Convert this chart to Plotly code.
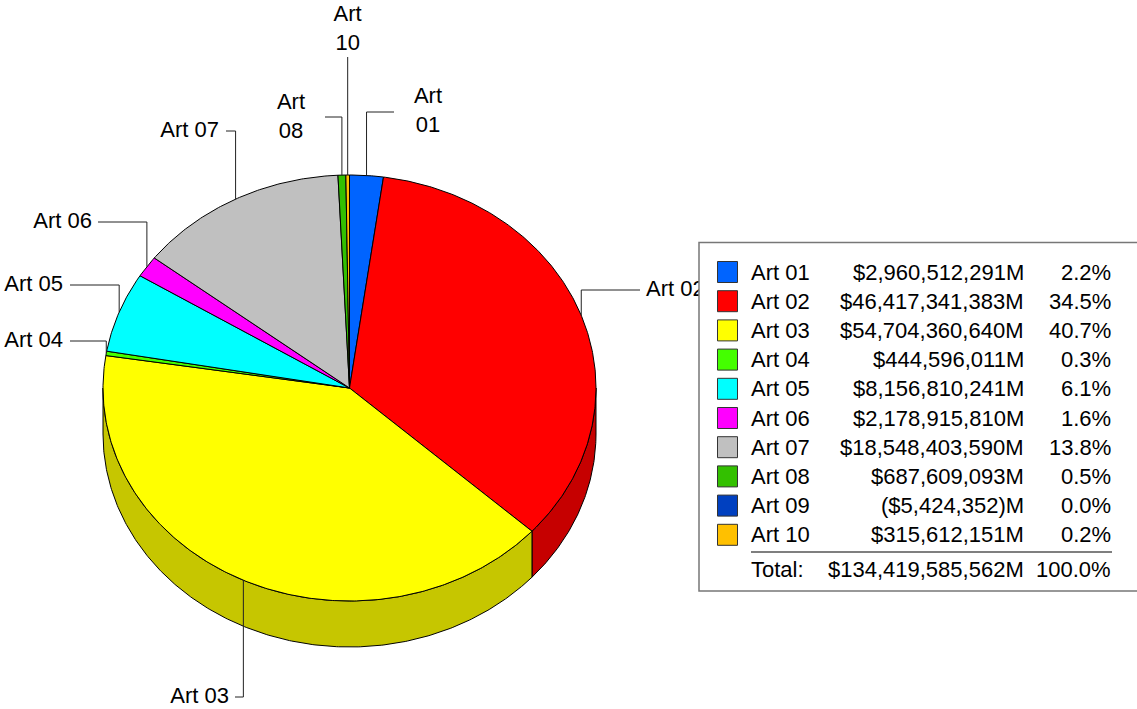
import numpy as np
import plotly.graph_objects as go

# ---- data (values in millions) ----
names = ["Art 01", "Art 02", "Art 03", "Art 04", "Art 05",
         "Art 06", "Art 07", "Art 08", "Art 09", "Art 10"]
values = [2960512291, 46417341383, 54704360640, 444596011, 8156810241,
          2178915810, 18548403590, 687609093, -5424352, 315612151]
colors = ["#0064FF", "#FF0000", "#FFFF00", "#44FF00", "#00FFFF",
          "#FF00FF", "#C0C0C0", "#33C000", "#0040C0", "#FFC000"]
pie_labels = ["Art<br>01", "Art 02", "Art 03", "Art 04", "Art 05",
              "Art 06", "Art 07", "Art<br>08", "Art<br>09", "Art<br>10"]

# ---- layout constants (pixel space) ----
W, H = 1137, 709
CX, CY, RX, RY, DEPTH = 349.5, 388.0, 246.5, 213.0, 46.0
FONT = "Liberation Sans, Arial, sans-serif"
FS = 22

# leader line elbows: name -> (elbow_y, line_end_x, text_x, text_y, textposition)
leaders = {
    "Art 01": (112, 394, 428, 112, "middle center"),
    "Art 02": (290, 640, 646, 290, "middle right"),
    "Art 03": (697, 235, 229, 697, "middle left"),
    "Art 04": (341, 70, 63, 341, "middle left"),
    "Art 05": (285, 70, 63, 285, "middle left"),
    "Art 06": (222, 98, 92, 222, "middle left"),
    "Art 07": (131, 226, 219, 131, "middle left"),
    "Art 08": (117, 325, 291, 118, "middle center"),
    "Art 10": (57, None, None, 30, "middle center"),
}


def shade(hex_color, f=0.78):
    h = hex_color.lstrip("#")
    r, g, b = (int(h[i:i + 2], 16) for i in (0, 2, 4))
    return "rgb(%d,%d,%d)" % (r * f, g * f, b * f)


def ell(theta_deg, dy=0.0):
    t = np.radians(theta_deg)
    return CX + RX * np.sin(t), CY - RY * np.cos(t) + dy


fig = go.Figure()

pos_total = sum(v for v in values if v > 0)
slices = []
start = 0.0
for n, v, c, lab in zip(names, values, colors, pie_labels):
    if v <= 0:
        continue
    span = 360.0 * v / pos_total
    slices.append((n, start, start + span, c, lab))
    start += span

# side walls (front half only)
for n, a, b, c, lab in slices:
    lo, hi = max(a, 90.0), min(b, 270.0)
    if hi <= lo:
        continue
    th = np.linspace(lo, hi, max(4, int((hi - lo) * 2)))
    xt, yt = ell(th)
    xb, yb = ell(th[::-1], DEPTH)
    xs = np.concatenate([xt, xb, xt[:1]])
    ys = np.concatenate([yt, yb, yt[:1]])
    fig.add_trace(go.Scatter(x=xs, y=ys, mode="lines", fill="toself",
                             fillcolor=shade(c), line=dict(color="black", width=1),
                             hoverinfo="skip", showlegend=False))

# top faces
for n, a, b, c, lab in slices:
    th = np.linspace(a, b, max(3, int((b - a) * 2)))
    xa, ya = ell(th)
    xs = np.concatenate([[CX], xa, [CX]])
    ys = np.concatenate([[CY], ya, [CY]])
    fig.add_trace(go.Scatter(x=xs, y=ys, mode="lines", fill="toself",
                             fillcolor=c, line=dict(color="black", width=1),
                             hoverinfo="skip", showlegend=False, name=n))

# leader lines and labels
for n, a, b, c, lab in slices:
    if n not in leaders:
        continue
    ey, ex, tx, ty, tp = leaders[n]
    mx, my = ell((a + b) / 2.0)
    if ex is None:
        lx, ly = [mx, mx], [my, ey]
        tx = mx
    else:
        lx, ly = [mx, mx, ex], [my, ey, ey]
    fig.add_trace(go.Scatter(x=lx, y=ly, mode="lines",
                             line=dict(color="#222222", width=1),
                             hoverinfo="skip", showlegend=False))
    fig.add_trace(go.Scatter(x=[tx], y=[ty], mode="text", text=[lab],
                             textposition=tp,
                             textfont=dict(family=FONT, size=FS, color="black"),
                             hoverinfo="skip", showlegend=False))

# ---- legend table ----
total = sum(abs(v) for v in values)
shapes = [dict(type="rect", xref="x", yref="y", x0=699, x1=1145, y0=242.5, y1=591,
               fillcolor="white", line=dict(color="#777777", width=1.5), layer="above")]
annotations = []
ROW0, ROWH = 272.0, 29.2
XL, XV, XP = 749, 1026, 1113
for i, (n, v, c) in enumerate(zip(names, values, colors)):
    y = ROW0 + i * ROWH
    shapes.append(dict(type="rect", xref="x", yref="y", x0=717.5, x1=737.5,
                       y0=y - 10.5, y1=y + 10.5, fillcolor=c,
                       line=dict(color="#333333", width=1), layer="above"))
    money = ("$%sM" % format(v, ",")) if v >= 0 else ("($%s)M" % format(-v, ","))
    pct = round(v / total * 100, 1) + 0.0
    for txt, x, anc in ((n, XL, "left"), (money, XV, "right"),
                        ("%.1f%%" % pct, XP, "right")):
        annotations.append(dict(x=x, y=y, xref="x", yref="y", text=txt,
                                showarrow=False, xanchor=anc, yanchor="middle",
                                font=dict(family=FONT, size=FS, color="black")))

shapes.append(dict(type="line", xref="x", yref="y", x0=751, x1=1112, y0=552, y1=552,
                   line=dict(color="#555555", width=1.5), layer="above"))
ty = 569
for txt, x, anc in (("Total:", XL, "left"), ("$%sM" % format(total, ","), XV, "right"),
                    ("100.0%", XP, "right")):
    annotations.append(dict(x=x, y=ty, xref="x", yref="y", text=txt,
                            showarrow=False, xanchor=anc, yanchor="middle",
                            font=dict(family=FONT, size=FS, color="black")))

fig.update_layout(
    width=W, height=H, autosize=False,
    margin=dict(l=0, r=0, t=0, b=0),
    paper_bgcolor="white", plot_bgcolor="white",
    xaxis=dict(range=[0, W], visible=False, fixedrange=True),
    yaxis=dict(range=[H, 0], visible=False, fixedrange=True),
    shapes=shapes, annotations=annotations,
    font=dict(family=FONT, size=FS, color="black"),
)

fig.write_html("out.html")
